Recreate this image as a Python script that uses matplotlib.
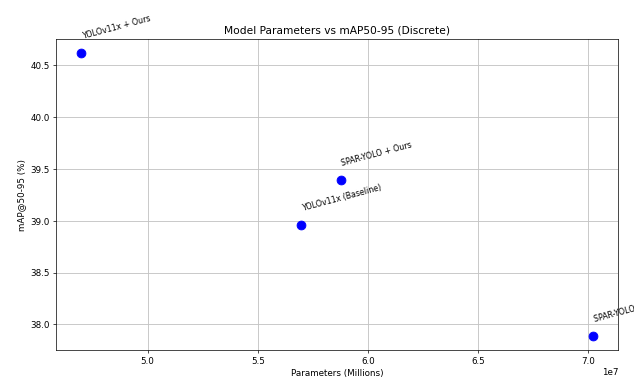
import numpy as np
import matplotlib
matplotlib.use("Agg")
import matplotlib.pyplot as plt

# model names and values
models = ["YOLOv11x + Ours", "YOLOv11x (Baseline)", "SPAR-YOLO + Ours", "SPAR-YOLO (Baseline)"]
params = [4.699e7, 5.698e7, 5.876e7, 7.020e7]
map5095 = [40.62, 38.96, 39.39, 37.89]

fig, ax = plt.subplots(figsize=(10, 6))
ax.scatter(params, map5095, s=100, color="blue", zorder=3)

for name, x, y in zip(models, params, map5095):
    ax.annotate(
        name,
        (x, y),
        xytext=(0, 14),
        textcoords="offset points",
        fontsize=9,
        rotation=15,
        ha="left",
        va="bottom",
    )

ax.set_title("Model Parameters vs mAP50-95 (Discrete)")
ax.set_xlabel("Parameters (Millions)")
ax.set_ylabel("mAP@50-95 (%)")
ax.grid(True, color="#c4c4c4", linewidth=1.0)

fig.subplots_adjust(left=0.0879, right=0.9752, top=0.8974, bottom=0.0789)
plt.savefig("out.png", dpi=63.4)
